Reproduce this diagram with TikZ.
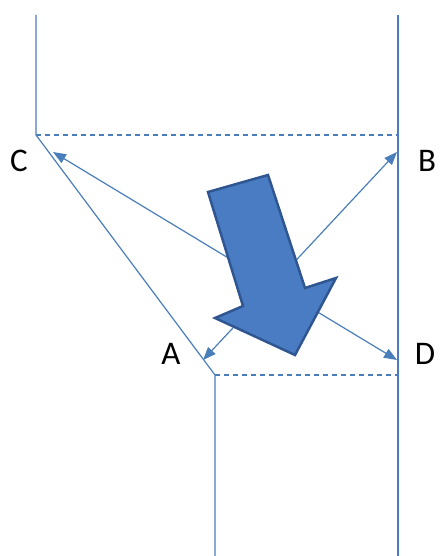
\documentclass[tikz,border=0pt]{standalone}
\usepackage{fontspec}
\setmainfont{Carlito}
\usetikzlibrary{arrows.meta}
\definecolor{thinblue}{HTML}{4A7EBB}
\definecolor{arrowfill}{HTML}{4A7CC4}
\definecolor{arrowline}{HTML}{2F5690}
\tikzset{
  wall/.style={thinblue, line width=1.2pt},
  dashwall/.style={thinblue, line width=1.2pt, dash pattern=on 5pt off 4pt},
  force/.style={thinblue, line width=1.2pt, -{Triangle[length=13pt,width=10pt]}},
  lbl/.style={font=\fontsize{33}{33}\selectfont, inner sep=0pt},
  bigarrow/.style={fill=arrowfill, draw=arrowline, line width=2.5pt, line join=miter}
}
\begin{document}
\begin{tikzpicture}[x=1pt,y=-1pt]
\useasboundingbox (0,0) rectangle (440,556);
% walls
\coordinate (ltop) at (36,15);
\coordinate (cc) at (36,135);
\coordinate (rtop) at (398,15);
\coordinate (rbot) at (398,556);
\coordinate (rc) at (398,135);
\coordinate (ac) at (215,375);
\coordinate (rd) at (398,375);
\coordinate (mbot) at (215,556);
\draw[wall] (ltop) -- (cc) -- (ac) -- (mbot);
\draw[wall] (rtop) -- (rbot);
\draw[dashwall] (cc) -- (rc);
\draw[dashwall] (ac) -- (rd);
% forces
\coordinate (O) at (273,285);
\coordinate (tA) at (203,360);
\coordinate (tB) at (397,152);
\coordinate (tC) at (53,152);
\coordinate (tD) at (397,360);
\draw[force] (O) -- (tA);
\draw[force] (O) -- (tB);
\draw[force] (O) -- (tC);
\draw[force] (O) -- (tD);
% big arrow
\draw[bigarrow] (208,192) -- (268,175) -- (305,288) -- (336,278) -- (295,355) -- (215,318) -- (243,306) -- cycle;
% labels
\node[lbl] (A) at (171,354) {A};
\node[lbl] (B) at (427,161) {B};
\node[lbl] (C) at (19,161) {C};
\node[lbl] (D) at (425,354) {D};
\end{tikzpicture}
\end{document}
